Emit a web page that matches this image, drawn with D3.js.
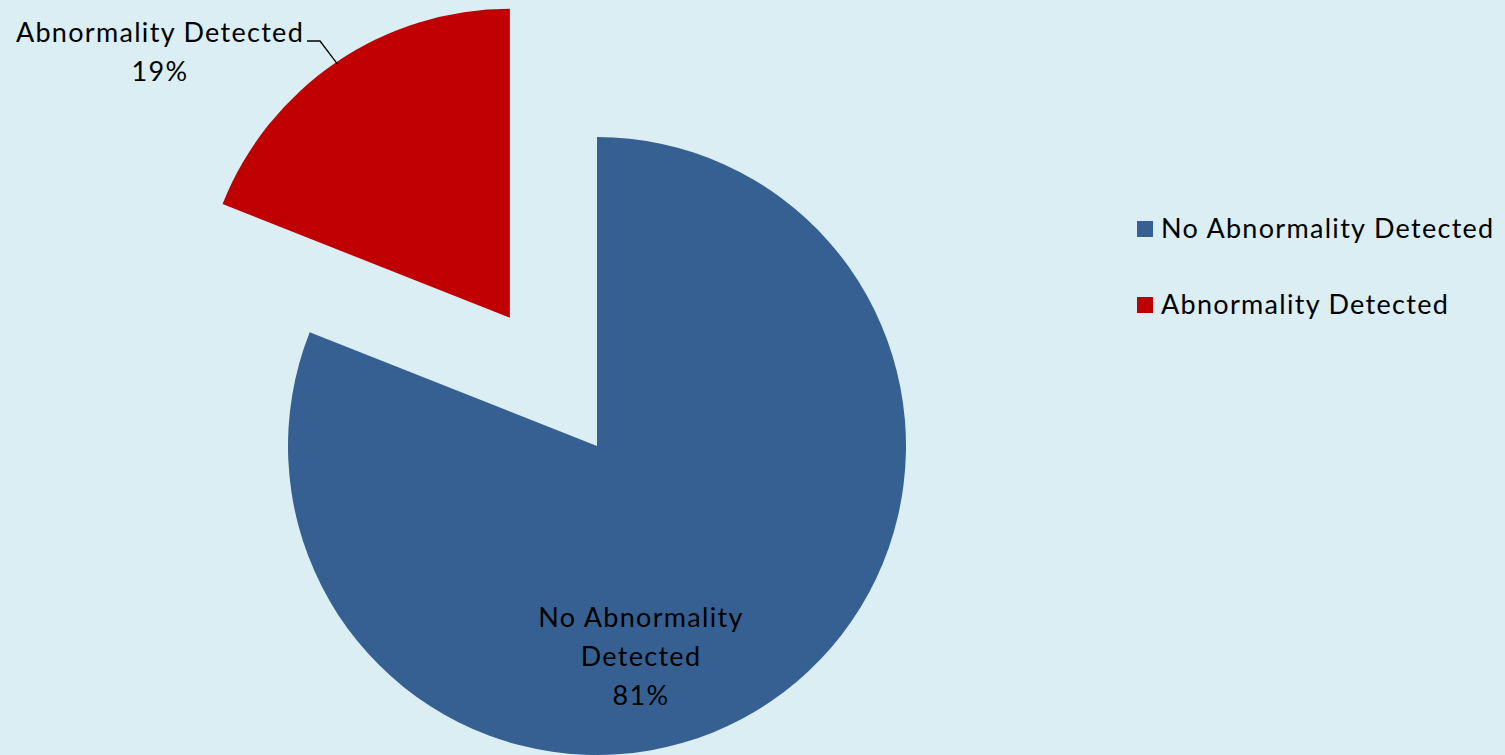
<!DOCTYPE html>
<html>
<head>
<meta charset="utf-8">
<script src="https://cdn.jsdelivr.net/npm/d3@7"></script>
<style>
  html, body { margin: 0; padding: 0; background: #DBEEF4; }
  svg { display: block; }
  text { font-family: Lato, "Open Sans", sans-serif; fill: #000; letter-spacing: 1.3px; }
</style>
</head>
<body>
<svg id="chart" width="1505" height="755"></svg>
<script>
// Screening outcomes
const categories = ["No Abnormality Detected", "Abnormality Detected"];
const shares = [81, 19];
const colors = ["#366092", "#C00000"];

const W = 1505, H = 755;
const cx = 597, cy = 446, R = 309;
const explode = [0, 155];

const svg = d3.select("#chart");
svg.append("rect").attr("width", W).attr("height", H).attr("fill", "#DBEEF4");

const pie = d3.pie().sort(null).value(d => d.v);
const arcs = pie(categories.map((c, i) => ({ name: c, v: shares[i], color: colors[i], off: explode[i] })));
const arc = d3.arc().innerRadius(0).outerRadius(R);

const g = svg.append("g").attr("transform", `translate(${cx},${cy})`);

arcs.forEach(a => {
  const mid = (a.startAngle + a.endAngle) / 2;
  const dx = Math.sin(mid) * a.data.off, dy = -Math.cos(mid) * a.data.off;
  a.dx = dx; a.dy = dy; a.mid = mid;
  g.append("path")
    .attr("d", arc(a))
    .attr("transform", `translate(${dx},${dy})`)
    .attr("fill", a.data.color);
});

const fs = 27;
// label inside the large slice
{
  const a = arcs[0];
  const lg = g.append("text")
    .attr("text-anchor", "middle")
    .attr("font-size", fs);
  const lx = 44, ly0 = 181;
  ["No Abnormality", "Detected", a.data.v + "%"].forEach((t, i) => {
    lg.append("tspan").attr("x", lx).attr("y", ly0 + i * 39).text(t);
  });
}

// outside label with leader line for the exploded slice
{
  const a = arcs[1];
  const ox = cx + a.dx, oy = cy + a.dy;
  const edge = [ox + Math.sin(a.mid) * (R - 2), oy - Math.cos(a.mid) * (R - 2)];
  svg.append("polyline")
    .attr("points", [[307, 41], [320, 41], edge].map(p => p.join(",")).join(" "))
    .attr("fill", "none").attr("stroke", "#000").attr("stroke-width", 1.3);
  const t = svg.append("text").attr("text-anchor", "middle").attr("font-size", fs);
  t.append("tspan").attr("x", 160).attr("y", 42).text(a.data.name);
  t.append("tspan").attr("x", 160).attr("y", 81).text(a.data.v + "%");
}

// legend
const legend = svg.append("g").attr("transform", "translate(1137,221)");
categories.forEach((c, i) => {
  const row = legend.append("g").attr("transform", `translate(0,${i * 76})`);
  row.append("rect").attr("width", 16).attr("height", 16).attr("fill", colors[i]);
  row.append("text").attr("x", 24).attr("y", 17).attr("font-size", fs).text(c);
});
</script>
</body>
</html>
